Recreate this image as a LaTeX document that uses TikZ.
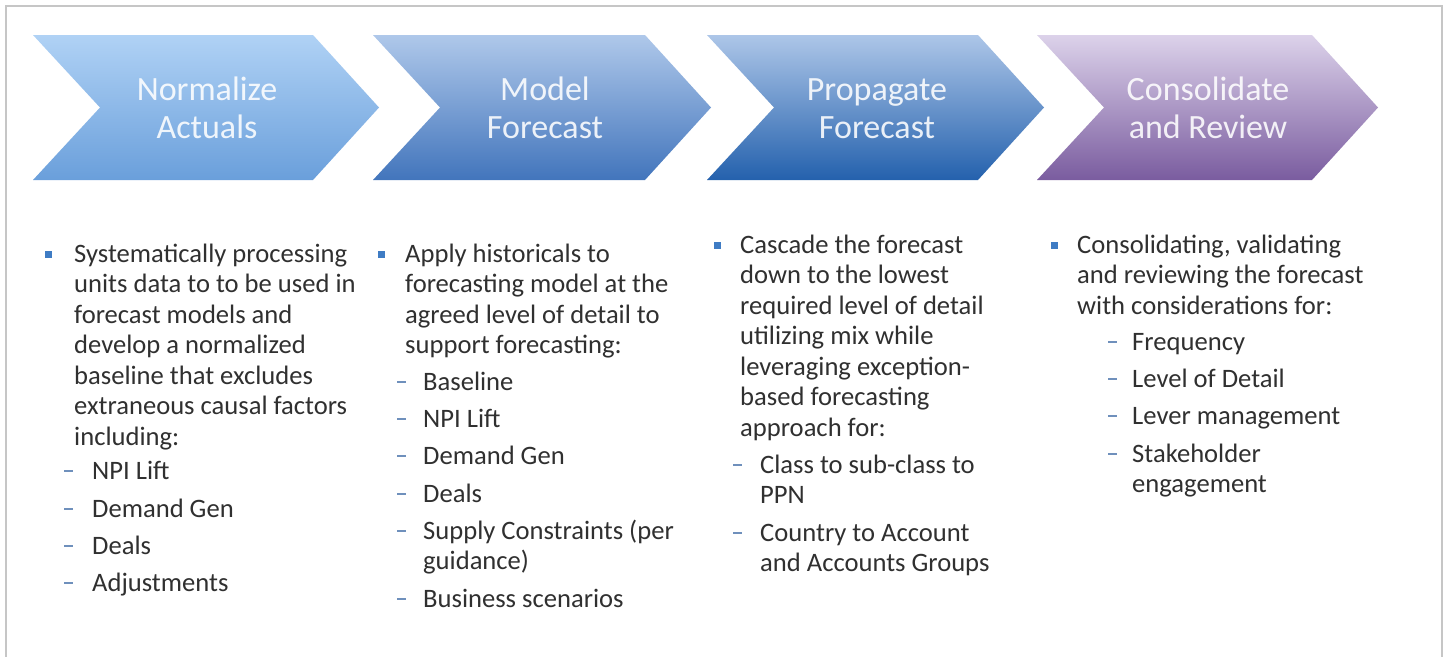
\documentclass[tikz,border=0pt]{standalone}
\usepackage{fontspec}
\setmainfont{Carlito}
\definecolor{txt}{HTML}{303030}
\definecolor{bul}{HTML}{3F7CC4}
\definecolor{dsh}{HTML}{6F90BC}
\definecolor{frame}{HTML}{C6C6C6}
\definecolor{cAt}{HTML}{B0D2F5}
\definecolor{cAb}{HTML}{6A9FDB}
\definecolor{cBt}{HTML}{AFC8EA}
\definecolor{cBb}{HTML}{4275BC}
\definecolor{cCt}{HTML}{ADC6E8}
\definecolor{cCb}{HTML}{2461AD}
\definecolor{cDt}{HTML}{DCD2EA}
\definecolor{cDb}{HTML}{7A5C9F}
\newcommand\mychev[4]{%
  \shade[top color=#3, bottom color=#4]
    (#1,35) -- (#2,35) -- (#2+66,107.5) -- (#2,180) -- (#1,180) -- (#1+67,107.5) -- cycle;}
\begin{document}
\begin{tikzpicture}[x=1pt,y=-1pt,
  body/.style={anchor=base west, inner sep=0pt, align=left, text=txt,
    font=\fontsize{26.6}{30.5}\selectfont},
  ttl/.style={anchor=base, inner sep=0pt, align=center, text=white, text opacity=0.88,
    font=\fontsize{34}{38}\selectfont},
  dashmark/.style={draw=dsh, line width=2pt},
  bulletmark/.style={fill=bul}]
\useasboundingbox (0,0) rectangle (1448,656);
\clip (0,0) rectangle (1448,656);
\fill[white] (0,0) rectangle (1448,656);
\draw[frame, line width=2.2pt] (6,6) rectangle (1442,700);

% chevrons
\mychev{33}{313}{cAt}{cAb}
\mychev{373}{645}{cBt}{cBb}
\mychev{707}{978}{cCt}{cCb}
\mychev{1037}{1312}{cDt}{cDb}

% titles (anchor = baseline of last line)
\node[ttl] (t1) at (207,138) {Normalize\\Actuals};
\node[ttl] (t2) at (545,138) {Model\\Forecast};
\node[ttl] (t3) at (877,138) {Propagate\\Forecast};
\node[ttl] (t4) at (1208,138) {Consolidate\\and Review};

% column 1
\fill[bulletmark] (44.5,250.5) rectangle ++(7,7);
\node[body] (a0) at (74,445) {Systematically processing\\units data to to be used in\\forecast models and\\develop a normalized\\baseline that excludes\\extraneous causal factors\\including:};
\draw[dashmark] (64,471) -- ++(9,0);
\node[body] (a1) at (92,479) {NPI Lift};
\draw[dashmark] (64,509) -- ++(9,0);
\node[body] (a2) at (92,517) {Demand Gen};
\draw[dashmark] (64,546) -- ++(9,0);
\node[body] (a3) at (92,554) {Deals};
\draw[dashmark] (64,583) -- ++(9,0);
\node[body] (a4) at (92,591) {Adjustments};

% column 2
\fill[bulletmark] (377.5,250.5) rectangle ++(7,7);
\node[body] (b0) at (405,353.5) {Apply historicals to\\forecasting model at the\\agreed level of detail to\\support forecasting:};
\draw[dashmark] (397,382) -- ++(9,0);
\node[body] (b1) at (423,390) {Baseline};
\draw[dashmark] (397,419) -- ++(9,0);
\node[body] (b2) at (423,427) {NPI Lift};
\draw[dashmark] (397,456) -- ++(9,0);
\node[body] (b3) at (423,464) {Demand Gen};
\draw[dashmark] (397,494) -- ++(9,0);
\node[body] (b4) at (423,502) {Deals};
\draw[dashmark] (397,531) -- ++(9,0);
\node[body] (b5) at (423,569.5) {Supply Constraints (per\\guidance)};
\draw[dashmark] (397,599) -- ++(9,0);
\node[body] (b6) at (423,607) {Business scenarios};

% column 3
\fill[bulletmark] (713.5,241.5) rectangle ++(7,7);
\node[body] (c0) at (740,436) {Cascade the forecast\\down to the lowest\\required level of detail\\utilizing mix while\\leveraging exception-\\based forecasting\\approach for:};
\draw[dashmark] (733,465) -- ++(9,0);
\node[body] (c1) at (760,503.5) {Class to sub-class to\\PPN};
\draw[dashmark] (733,533) -- ++(9,0);
\node[body] (c2) at (760,571.5) {Country to Account\\and Accounts Groups};

% column 4
\fill[bulletmark] (1050.5,241.5) rectangle ++(7,7);
\node[body] (d0) at (1077,314) {Consolidating, validating\\and reviewing the forecast\\with considerations for:};
\draw[dashmark] (1108,342) -- ++(9,0);
\node[body] (d1) at (1132,350) {Frequency};
\draw[dashmark] (1108,379) -- ++(9,0);
\node[body] (d2) at (1132,387) {Level of Detail};
\draw[dashmark] (1108,416) -- ++(9,0);
\node[body] (d3) at (1132,424) {Lever management};
\draw[dashmark] (1108,454) -- ++(9,0);
\node[body] (d4) at (1132,492.5) {Stakeholder\\engagement};
\end{tikzpicture}
\end{document}
